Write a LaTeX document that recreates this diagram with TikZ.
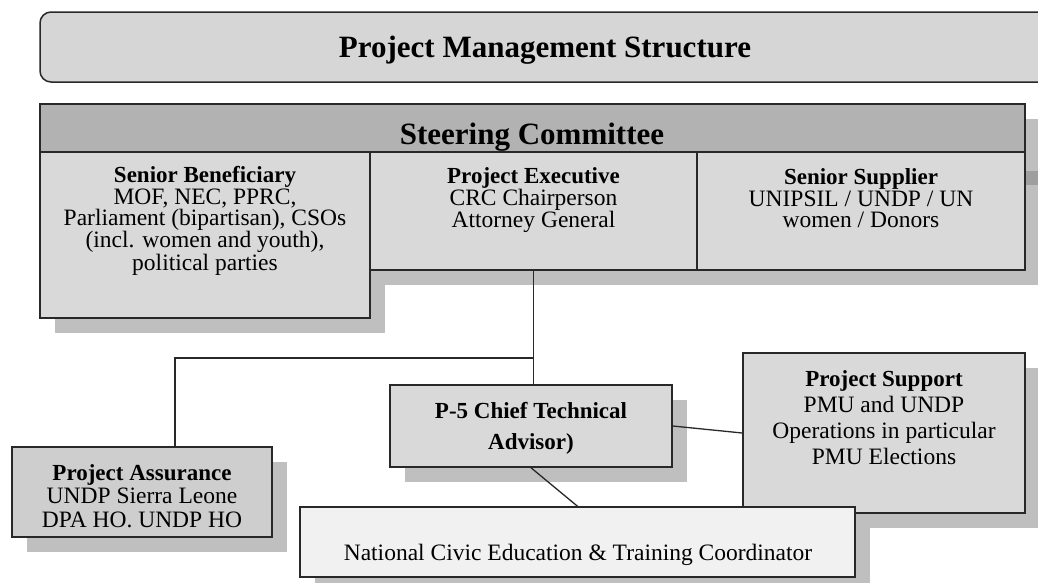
\documentclass[tikz,border=0pt]{standalone}
\usepackage{fontspec}
\setmainfont{Liberation Serif}
\usetikzlibrary{shadows, positioning}
\definecolor{TitleGray}{RGB}{214,214,214}
\definecolor{BandGray}{RGB}{178,178,178}
\definecolor{CellGray}{RGB}{217,217,217}
\definecolor{DarkCell}{RGB}{206,206,206}
\definecolor{PaleGray}{RGB}{241,241,241}
\definecolor{ShadowGray}{RGB}{191,191,191}
\definecolor{EdgeGray}{RGB}{40,40,40}
% bold first line of a box
\newcommand\hd[1]{{\fontsize{23}{20}\selectfont\bfseries #1}}

\begin{document}
\begin{tikzpicture}[x=1pt, y=-1pt,
  panel/.style={draw=EdgeGray, line width=1.5pt, fill=CellGray, inner sep=0pt,
                drop shadow={shadow xshift=15pt, shadow yshift=-15pt,
                             fill=ShadowGray, opacity=1}},
  % base = baseline of the last line
  txt/.style={anchor=base, align=center, inner sep=0pt,
              font=\fontsize{23.5}{21.3}\selectfont},
  heading/.style={anchor=base, inner sep=0pt,
                  font=\fontsize{31}{36}\selectfont\bfseries},
  link/.style={draw=EdgeGray, line width=1.3pt},
]
\clip (0,0) rectangle (1038,582);
\fill[white] (0,0) rectangle (1038,582);

% title bar, runs off the right edge
\node[draw=EdgeGray, line width=1.5pt, fill=TitleGray, rounded corners=11pt,
      minimum width=1012pt, minimum height=70pt] (titlebar) at (546,47) {};
\node[heading] (titletxt) at (545,57) {Project Management Structure};

% steering committee: band on top, three cells under it
\node[panel, fill=BandGray, minimum width=985pt, minimum height=48pt] (band) at (532.5,128) {};
\node[panel, minimum width=330pt, minimum height=166pt] (benef) at (205,235) {};
\node[panel, minimum width=327pt, minimum height=118pt] (exec) at (533.5,211) {};
\node[panel, minimum width=328pt, minimum height=118pt] (suppl) at (861,211) {};
\fill[gray!75] (1026,171) rectangle (1038,185);

\node[heading] (bandtxt) at (532,144) {Steering Committee};
\node[txt] (beneftxt) at (205,270) {\hd{Senior Beneficiary}\\MOF, NEC, PPRC,\\Parliament (bipartisan), CSOs\\(incl. women and youth),\\political parties};
\node[txt] (exectxt) at (533.5,227.5) {\hd{Project Executive}\\CRC Chairperson\\Attorney General};
\node[txt] (suppltxt) at (861,227.5) {\hd{Senior Supplier}\\UNIPSIL / UNDP / UN\\women / Donors};

% lower boxes
\node[panel, fill=DarkCell, minimum width=260pt, minimum height=90pt] (assur) at (142,492) {};
\node[panel, minimum width=282pt, minimum height=82pt] (cta) at (531,426) {};
\node[panel, minimum width=282pt, minimum height=160pt] (support) at (884,433) {};
\node[panel, fill=PaleGray, minimum width=555pt, minimum height=70pt] (nceo) at (577.5,542) {};

\node[txt, font=\fontsize{23.5}{23.5}\selectfont] (assurtxt) at (142,527) {\hd{Project Assurance}\\UNDP Sierra Leone\\DPA HO. UNDP HO};
\node[txt, font=\fontsize{23}{31}\selectfont\bfseries] (ctatxt) at (531,449) {P-5 Chief Technical\\Advisor)};
\node[txt, font=\fontsize{23.5}{26}\selectfont] (supporttxt) at (884,464) {\hd{Project Support}\\PMU and UNDP\\Operations in particular\\PMU Elections};
\node[txt] (nceotxt) at (578,560) {National Civic Education \& Training Coordinator};

% connectors
\coordinate (elbow) at (175,358);
\draw[link] (exec.south) -- (exec.south |- cta.north);
\draw[link] (exec.south |- elbow) -- (elbow) -- (elbow |- assur.north);
\draw[link] (cta.east) -- (support.west);
\draw[link] (cta.south) -- (nceo.north);
\end{tikzpicture}
\end{document}
